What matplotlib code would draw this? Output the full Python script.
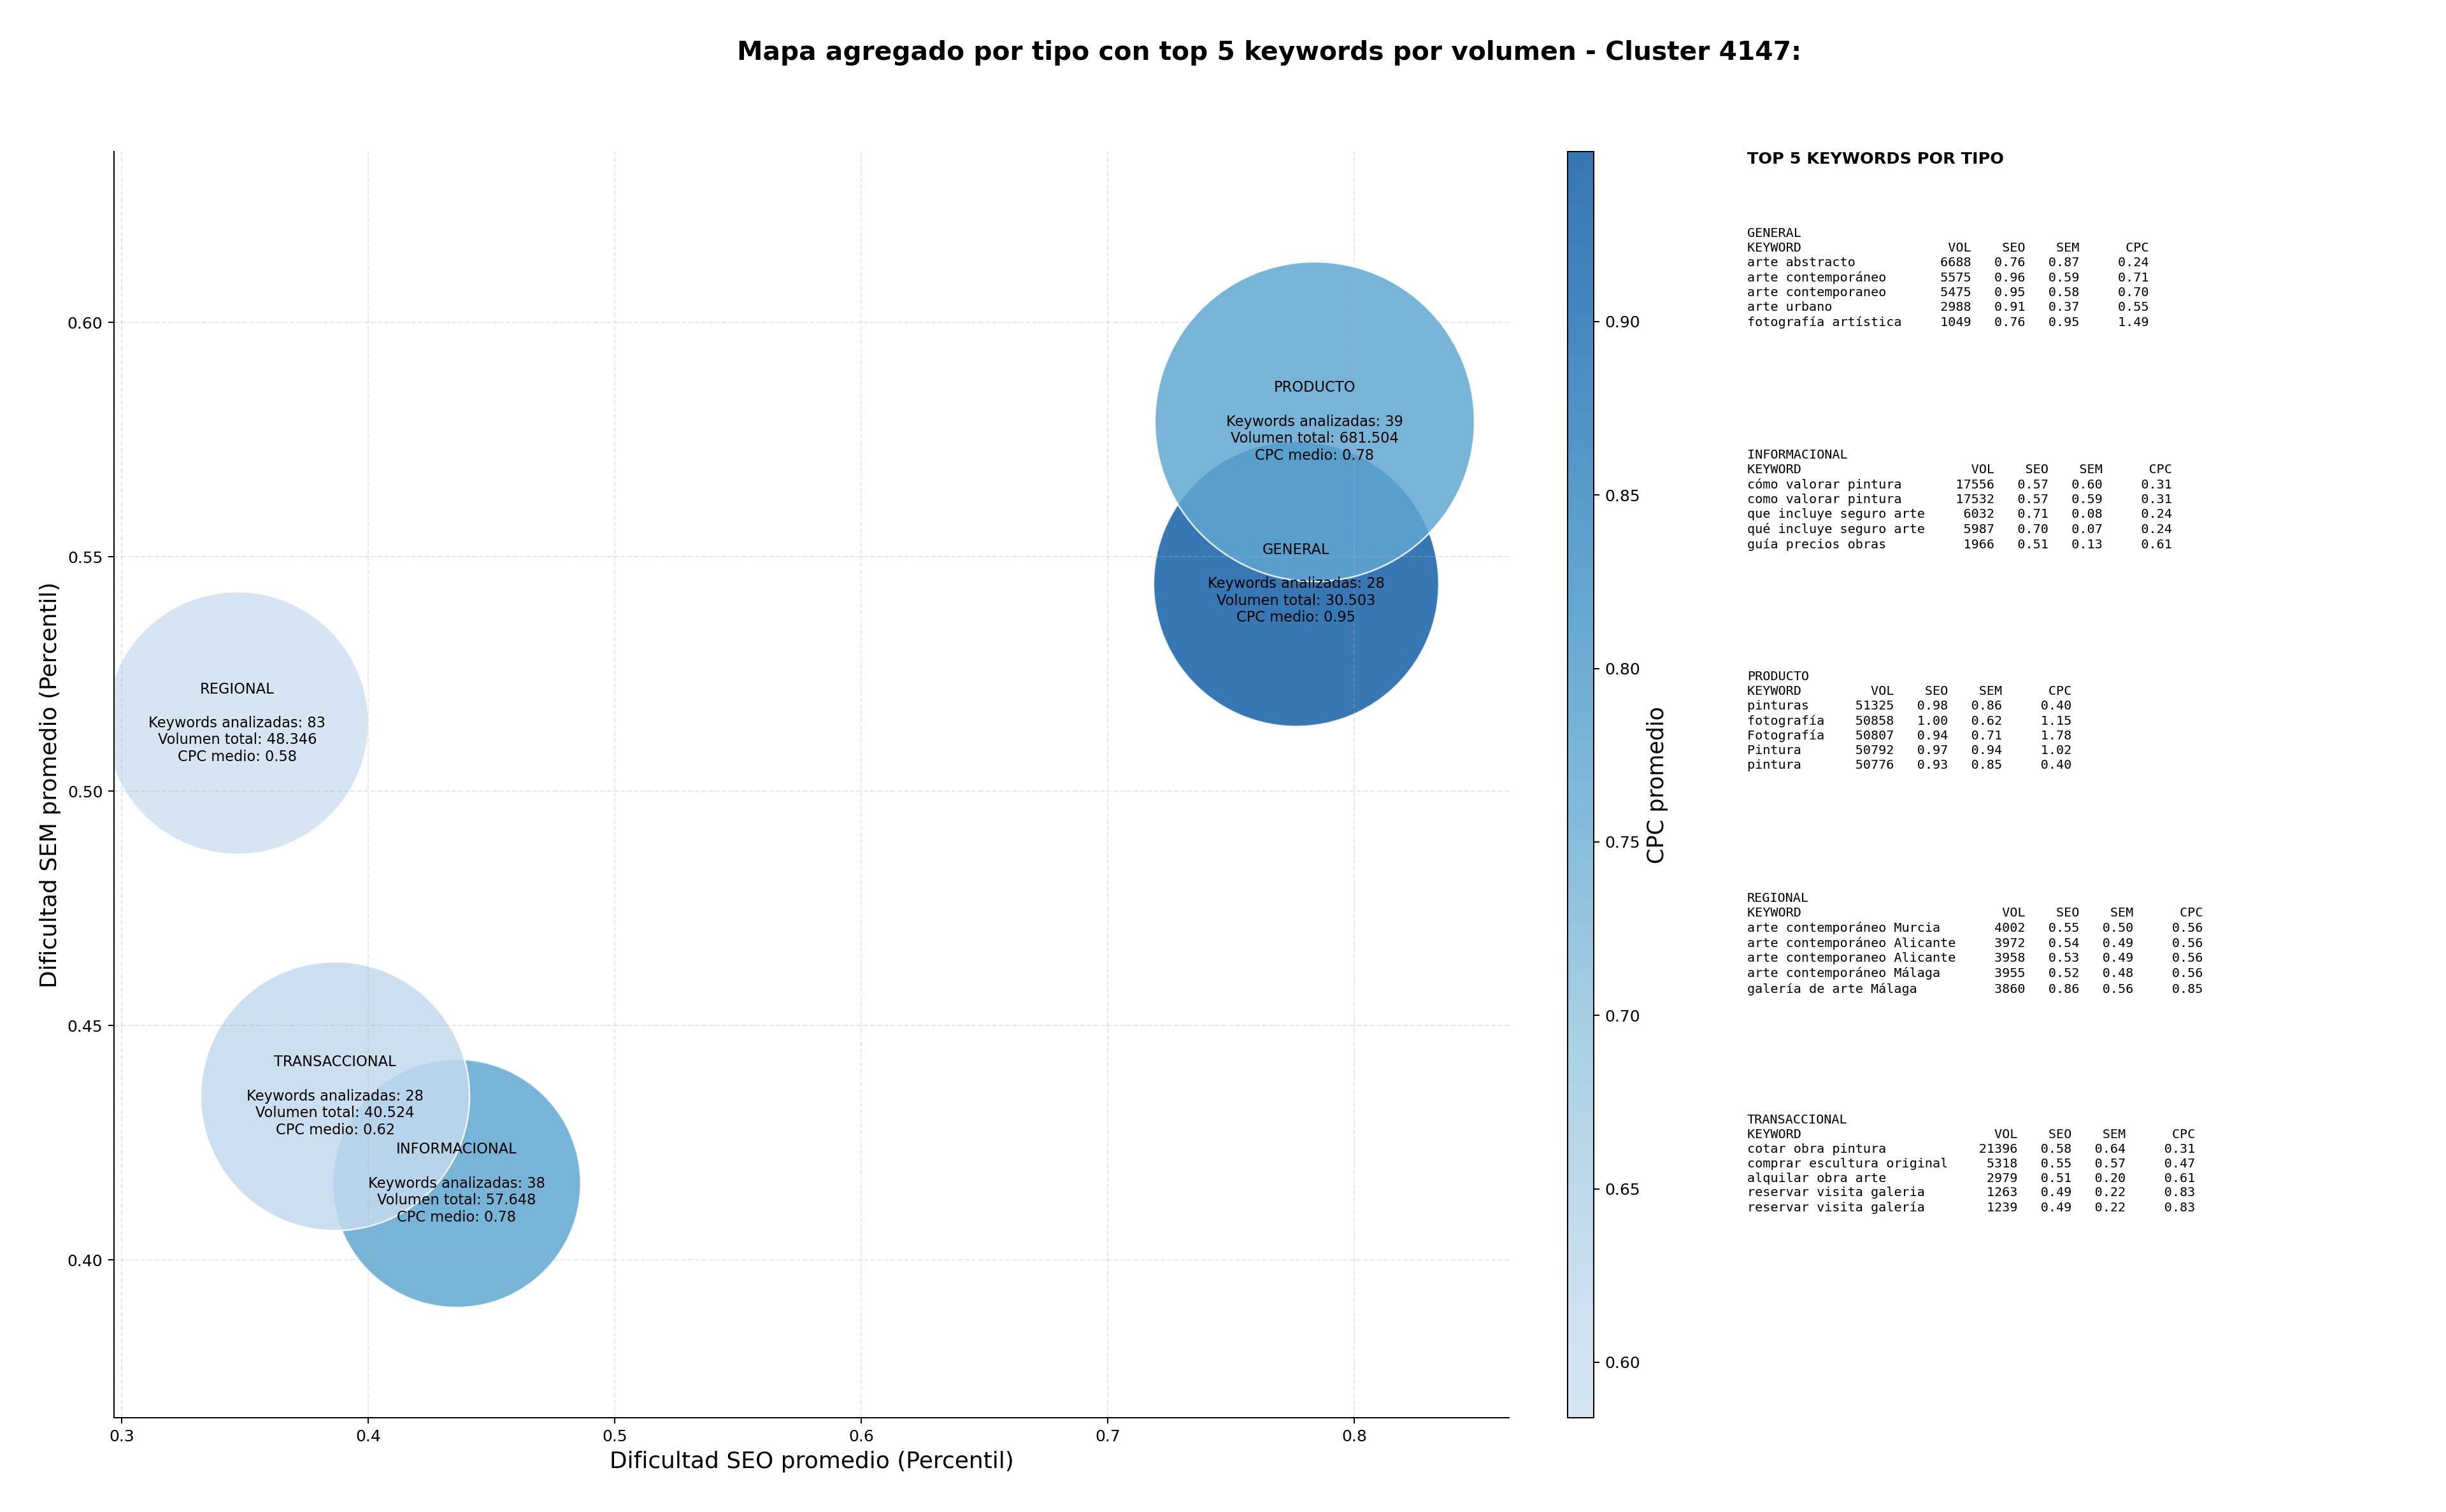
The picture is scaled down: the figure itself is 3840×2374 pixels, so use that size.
import numpy as np
import matplotlib
matplotlib.use("Agg")
import matplotlib.pyplot as plt
from matplotlib.colors import LinearSegmentedColormap, Normalize

# Aggregated values per keyword type (alphabetical, same order as drawn)
tipos = ["GENERAL", "INFORMACIONAL", "PRODUCTO", "REGIONAL", "TRANSACCIONAL"]
seo_prom = [0.7765, 0.4359, 0.7840, 0.3469, 0.3866]
sem_prom = [0.5442, 0.4163, 0.5788, 0.5145, 0.4349]
cpc_prom = [0.949, 0.78, 0.78, 0.584, 0.62]
n_keywords = [28, 38, 39, 83, 28]
vol_total = [30503, 57648, 681504, 48346, 40524]
# marker areas (pt^2) as read from the bubbles
bubble_area = [32100, 24300, 40300, 27200, 28500]

# Top 5 keywords per type: keyword, volume, seo, sem, cpc
top_general = [
    ("arte abstracto", 6688, 0.76, 0.87, 0.24),
    ("arte contemporáneo", 5575, 0.96, 0.59, 0.71),
    ("arte contemporaneo", 5475, 0.95, 0.58, 0.70),
    ("arte urbano", 2988, 0.91, 0.37, 0.55),
    ("fotografía artística", 1049, 0.76, 0.95, 1.49),
]
top_informacional = [
    ("cómo valorar pintura", 17556, 0.57, 0.60, 0.31),
    ("como valorar pintura", 17532, 0.57, 0.59, 0.31),
    ("que incluye seguro arte", 6032, 0.71, 0.08, 0.24),
    ("qué incluye seguro arte", 5987, 0.70, 0.07, 0.24),
    ("guía precios obras", 1966, 0.51, 0.13, 0.61),
]
top_producto = [
    ("pinturas", 51325, 0.98, 0.86, 0.40),
    ("fotografía", 50858, 1.00, 0.62, 1.15),
    ("Fotografía", 50807, 0.94, 0.71, 1.78),
    ("Pintura", 50792, 0.97, 0.94, 1.02),
    ("pintura", 50776, 0.93, 0.85, 0.40),
]
top_regional = [
    ("arte contemporáneo Murcia", 4002, 0.55, 0.50, 0.56),
    ("arte contemporáneo Alicante", 3972, 0.54, 0.49, 0.56),
    ("arte contemporaneo Alicante", 3958, 0.53, 0.49, 0.56),
    ("arte contemporáneo Málaga", 3955, 0.52, 0.48, 0.56),
    ("galería de arte Málaga", 3860, 0.86, 0.56, 0.85),
]
top_transaccional = [
    ("cotar obra pintura", 21396, 0.58, 0.64, 0.31),
    ("comprar escultura original", 5318, 0.55, 0.57, 0.47),
    ("alquilar obra arte", 2979, 0.51, 0.20, 0.61),
    ("reservar visita galeria", 1263, 0.49, 0.22, 0.83),
    ("reservar visita galería", 1239, 0.49, 0.22, 0.83),
]
top_tables = [top_general, top_informacional, top_producto, top_regional, top_transaccional]


def format_table(nombre, filas):
    '''
    Build the monospaced text block for one type
    '''
    w = max(len(f[0]) for f in filas)
    lines = [nombre, f"{'KEYWORD':<{w}}  {'VOL':>7}{'SEO':>7}{'SEM':>7}{'CPC':>9}"]
    for kw, vol, seo, sem, cpc in filas:
        lines.append(f"{kw:<{w}}  {vol:>7}{seo:>7.2f}{sem:>7.2f}{cpc:>9.2f}")
    return "\n".join(lines)


if __name__ == "__main__":
    fig = plt.figure(figsize=(3840 / 180, 2374 / 180))

    ax = fig.add_axes([0.0466, 0.0623, 0.5703, 0.8374])
    cax = fig.add_axes([0.6409, 0.0623, 0.0107, 0.8374])
    tax = fig.add_axes([0.7143, 0.0623, 0.28, 0.8374])
    tax.axis("off")

    # Blues without the very light and very dark ends
    cmap = LinearSegmentedColormap.from_list("blues_cut", plt.cm.Blues(np.linspace(0.2, 0.82, 256)))
    norm = Normalize(vmin=min(cpc_prom), vmax=max(cpc_prom))

    sc = ax.scatter(seo_prom, sem_prom, s=bubble_area, c=cpc_prom, cmap=cmap, norm=norm,
                    alpha=0.85, edgecolors="white", linewidths=1)

    for i, t in enumerate(tipos):
        vol_txt = f"{vol_total[i]:,}".replace(",", ".")
        label = (f"{t}\n\nKeywords analizadas: {n_keywords[i]}\n"
                 f"Volumen total: {vol_txt}\nCPC medio: {cpc_prom[i]:.2f}")
        ax.text(seo_prom[i], sem_prom[i], label, ha="center", va="center",
                fontsize=9, multialignment="center")

    ax.set_xlim(0.2969, 0.8628)
    ax.set_ylim(0.3663, 0.6364)
    ax.set_xlabel("Dificultad SEO promedio (Percentil)", fontsize=14.4)
    ax.set_ylabel("Dificultad SEM promedio (Percentil)", fontsize=14.4)
    ax.grid(True, linestyle="--", alpha=0.3)
    ax.spines["top"].set_visible(False)
    ax.spines["right"].set_visible(False)

    cbar = fig.colorbar(sc, cax=cax)
    cbar.set_label("CPC promedio", fontsize=14)

    # Right hand text panel
    tax.text(0, 1.0, "TOP 5 KEYWORDS POR TIPO", fontsize=10.2, fontweight="bold",
             va="top", ha="left", transform=tax.transAxes)
    for i, t in enumerate(tipos):
        tax.text(0, 0.94 - i * 0.175, format_table(t, top_tables[i]), family="monospace",
                 fontsize=8.05, linespacing=1.26, va="top", ha="left", transform=tax.transAxes)

    fig.text(0.519, 0.965, "Mapa agregado por tipo con top 5 keywords por volumen - Cluster 4147:",
             fontsize=16.3, fontweight="bold", ha="center", va="center")

    fig.savefig("out.png", dpi=180)
